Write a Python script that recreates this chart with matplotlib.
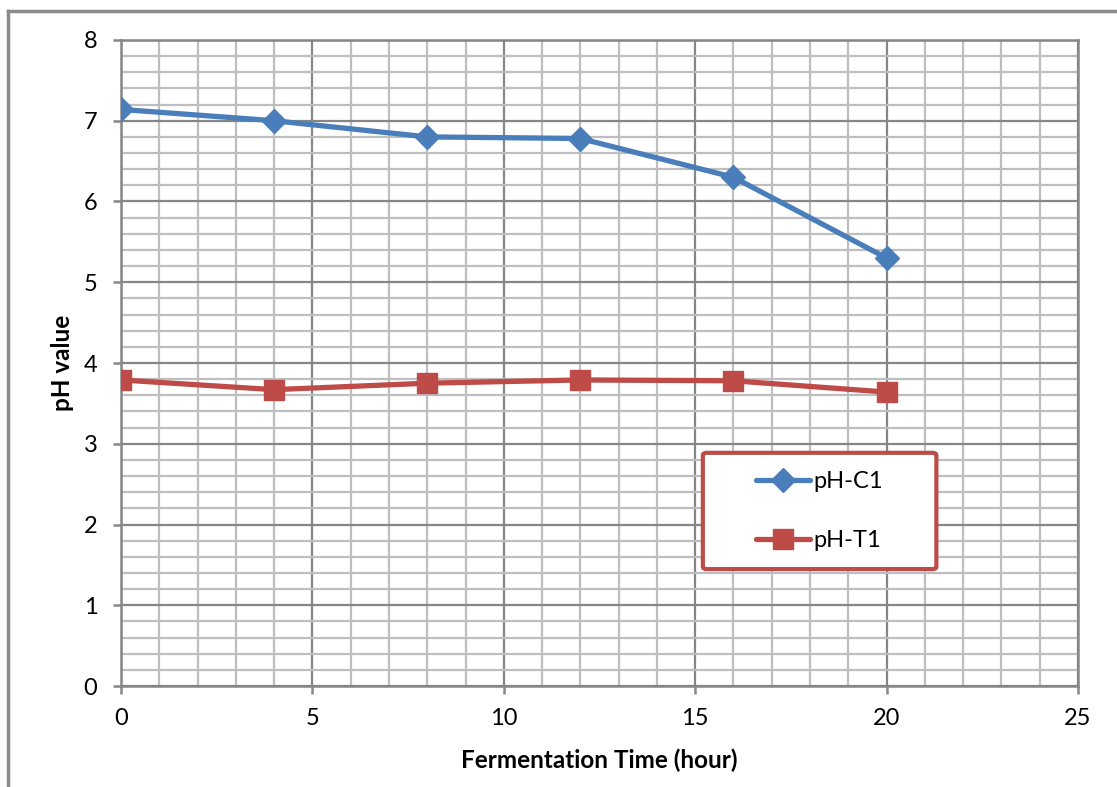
import matplotlib.pyplot as plt
from matplotlib.lines import Line2D
from matplotlib.patches import FancyBboxPatch
from matplotlib.ticker import MultipleLocator

plt.rcParams["font.family"] = ["Lato", "DejaVu Sans"]

time_hours = [0, 4, 8, 12, 16, 20]
ph_c1 = [7.14, 7.00, 6.80, 6.78, 6.30, 5.30]
ph_t1 = [3.79, 3.67, 3.75, 3.79, 3.78, 3.64]

BLUE = "#4A7EBB"
RED = "#BE4B48"
MAJOR_GRID = "#868686"
MINOR_GRID = "#BEBEBE"


def main() -> None:
    fig = plt.figure(figsize=(11.17, 7.87), dpi=100)
    ax = fig.add_axes([0.1083, 0.1283, 0.8568, 0.8209])

    # outer chart frame (cut off at the right and bottom edges)
    fig.add_artist(Line2D([8 / 1117, 1.0], [1 - 11 / 787] * 2,
                          transform=fig.transFigure, color="#8C8C8C", lw=2.5))
    fig.add_artist(Line2D([8 / 1117] * 2, [0.0, 1 - 11 / 787],
                          transform=fig.transFigure, color="#8C8C8C", lw=2.5))

    ax.plot(time_hours, ph_c1, color=BLUE, lw=3.8, marker="D", ms=12,
            label="pH-C1", zorder=4, solid_capstyle="round")
    ax.plot(time_hours, ph_t1, color=RED, lw=3.8, marker="s", ms=14,
            label="pH-T1", zorder=4, solid_capstyle="round")

    ax.set_xlim(0, 25)
    ax.set_ylim(0, 8)
    ax.xaxis.set_major_locator(MultipleLocator(5))
    ax.xaxis.set_minor_locator(MultipleLocator(1))
    ax.yaxis.set_major_locator(MultipleLocator(1))
    ax.yaxis.set_minor_locator(MultipleLocator(0.2))

    ax.grid(which="minor", color=MINOR_GRID, lw=1.6, zorder=1)
    ax.grid(which="major", color=MAJOR_GRID, lw=1.6, zorder=2)
    ax.set_axisbelow(True)

    for side in ["left", "bottom", "top", "right"]:
        ax.spines[side].set_color(MAJOR_GRID)
        ax.spines[side].set_linewidth(1.8)

    ax.tick_params(which="major", direction="out", length=6, width=1.8,
                   color=MAJOR_GRID, labelsize=17, pad=10)
    ax.tick_params(which="minor", length=0)
    ax.tick_params(axis="y", pad=11)

    ax.set_xlabel("Fermentation Time (hour)", fontsize=17.5, fontweight="bold",
                  labelpad=14)
    ax.set_ylabel("pH value", fontsize=17.5, fontweight="bold", labelpad=7)

    # legend box drawn by hand so its margins can match the original
    box_x, box_y, box_w, box_h = 0.608, 0.181, 0.244, 0.180
    ax.add_patch(FancyBboxPatch((box_x, box_y), box_w, box_h,
                                boxstyle="round,pad=0,rounding_size=0.004",
                                transform=ax.transAxes, facecolor="white",
                                edgecolor=RED, lw=3, zorder=5, clip_on=False))
    leg = ax.legend(loc="center",
                    bbox_to_anchor=(box_x, box_y, box_w, box_h),
                    fontsize=17, handlelength=2.3, labelspacing=1.6,
                    borderpad=0, handletextpad=0.15, frameon=False)
    leg.set_zorder(6)

    fig.savefig("out.png", dpi=100)
    plt.close(fig)


if __name__ == "__main__":
    main()
